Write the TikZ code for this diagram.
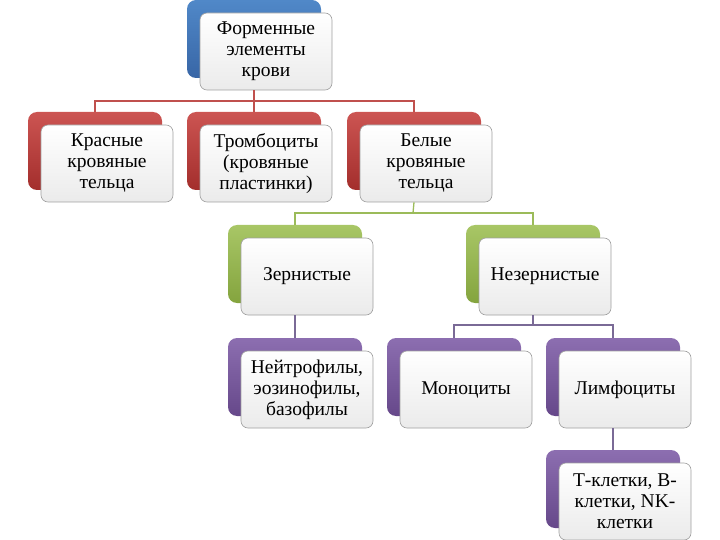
\documentclass[tikz,border=0pt]{standalone}
\usepackage{fontspec}
\setmainfont{Liberation Serif}
\definecolor{bluet}{HTML}{5088C8}
\definecolor{blueb}{HTML}{3866A6}
\definecolor{redt}{HTML}{CC5552}
\definecolor{redb}{HTML}{A32E2C}
\definecolor{greent}{HTML}{A8C666}
\definecolor{greenb}{HTML}{84A43E}
\definecolor{purpt}{HTML}{8C6EB0}
\definecolor{purpb}{HTML}{66488A}
\definecolor{redline}{HTML}{C0504D}
\definecolor{greenline}{HTML}{9BBB59}
\definecolor{purpline}{HTML}{7A6A96}
\tikzset{
  backbox/.style={rounded corners=9pt, minimum width=134pt, minimum height=78pt, inner sep=0pt},
  frontbox/.style={draw=gray!75, line width=0.6pt, rounded corners=7pt, top color=white, bottom color=black!8,
    minimum width=132pt, minimum height=77pt, inner sep=1pt, align=center,
    font=\fontsize{19.5}{21}\selectfont},
  conn/.style={line width=1.3pt}
}
\newcommand\blk[6]{%
  \node[backbox, top color=#4, bottom color=#5] (#1b) at (#2+67,#3+39) {};
  \node[frontbox] (#1) at (#2+79,#3+51.5) {#6};
}
\begin{document}
\begin{tikzpicture}[x=1pt,y=-1pt]
\useasboundingbox (0,0) rectangle (720,540);
% blocks
\blk{top}{187}{0}{bluet}{blueb}{Форменные\\элементы\\крови}
\blk{red}{28}{112}{redt}{redb}{Красные\\кровяные\\тельца}
\blk{tromb}{187}{112}{redt}{redb}{Тромбоциты\\(кровяные\\пластинки)}
\blk{white}{347}{112}{redt}{redb}{Белые\\кровяные\\тельца}
\blk{gran}{228}{225}{greent}{greenb}{Зернистые}
\blk{agran}{466}{225}{greent}{greenb}{Незернистые}
\blk{neut}{228}{338}{purpt}{purpb}{Нейтрофилы,\\эозинофилы,\\базофилы}
\blk{mono}{387}{338}{purpt}{purpb}{Моноциты}
\blk{lymph}{546}{338}{purpt}{purpb}{Лимфоциты}
\blk{tcell}{546}{450}{purpt}{purpb}{Т-клетки, В-\\клетки, NK-\\клетки}
% connectors
\coordinate (j1) at (254,101);
\draw[conn, redline] (topb.center |- top.south) -- (j1);
\draw[conn, redline] (j1) -| (redb.north);
\draw[conn, redline] (j1) -| (trombb.north);
\draw[conn, redline] (j1) -| (whiteb.north);
\coordinate (j2) at (413,213);
\draw[conn, greenline] (whiteb.center |- white.south) -- (j2);
\draw[conn, greenline] (j2) -| (granb.north);
\draw[conn, greenline] (j2) -| (agranb.north);
\draw[conn, purpline] (granb.center |- gran.south) -- (neutb.north);
\coordinate (j3) at (533,325);
\draw[conn, purpline] (agranb.center |- agran.south) -- (j3);
\draw[conn, purpline] (j3) -| (monob.north);
\draw[conn, purpline] (j3) -| (lymphb.north);
\draw[conn, purpline] (lymphb.center |- lymph.south) -- (tcellb.north);
\end{tikzpicture}
\end{document}
